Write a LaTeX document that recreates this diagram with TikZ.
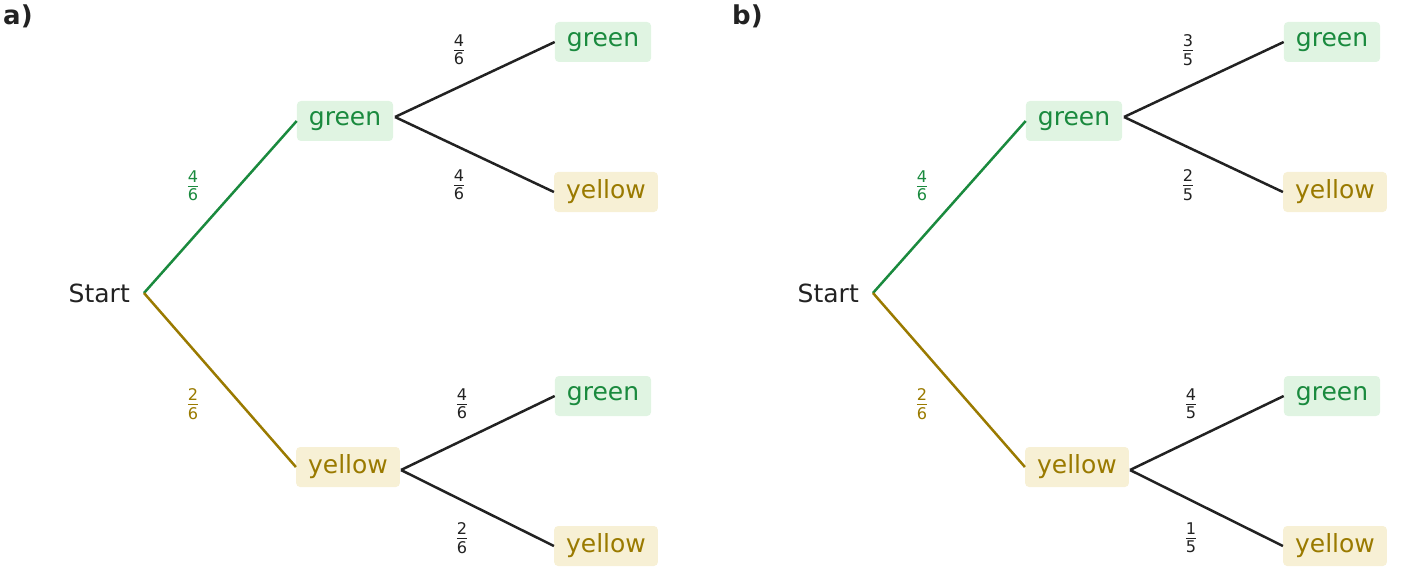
\documentclass[tikz,border=0pt]{standalone}
\usepackage{amsmath}
\usepackage{fontspec}
\setmainfont{DejaVu Sans}
\definecolor{gtx}{HTML}{1A8A3E}
\definecolor{gbg}{HTML}{E0F4E2}
\definecolor{ytx}{HTML}{9A7A00}
\definecolor{ybg}{HTML}{F7F0D5}
\definecolor{dk}{HTML}{222222}
\tikzset{
 gbox/.style={fill=gbg,text=gtx,rounded corners=4pt,minimum height=40pt,inner xsep=12pt,font=\fontsize{25}{30}\selectfont},
 ybox/.style={fill=ybg,text=ytx,rounded corners=4pt,minimum height=40pt,inner xsep=12pt,font=\fontsize{25}{30}\selectfont},
 st/.style={text=dk,font=\fontsize{25}{30}\selectfont,inner sep=0pt},
 fr/.style={font=\fontsize{23}{26}\selectfont,inner sep=0pt},
 ln/.style={line width=2.5pt},
 pl/.style={text=dk,font=\bfseries\fontsize{26}{30}\selectfont,anchor=west,inner sep=0pt}
}
\newcommand{\fq}[2]{$\frac{\text{#1}}{\text{#2}}$}
\begin{document}
\begin{tikzpicture}[x=1pt,y=-1pt]
\useasboundingbox (0,0) rectangle (1410,588);
\foreach \o/\l/\a/\b/\c/\d/\p in {0/a/4/6/4/6/a, 729/b/3/5/2/5/b}{
 \node[pl] (lab\p) at (\o+3,16) {\l)};
 \node[st,anchor=east] (s\p) at (\o+130,293) {Start};
 \coordinate (r\p) at (\o+144,293);
 \node[gbox] (g\p) at (\o+345,121) {green};
 \node[ybox] (y\p) at (\o+348,467) {yellow};
 \node[gbox] (gg\p) at (\o+603,42) {green};
 \node[ybox] (gy\p) at (\o+606,192) {yellow};
 \node[gbox] (yg\p) at (\o+603,396) {green};
 \node[ybox] (yy\p) at (\o+606,546) {yellow};
 \draw[ln,gtx] (r\p) -- (g\p.west);
 \draw[ln,ytx] (r\p) -- (y\p.west);
 \coordinate (ge\p) at (\o+395,117);
 \coordinate (ye\p) at (\o+401,470);
 \draw[ln,dk] (ge\p) -- (gg\p.west);
 \draw[ln,dk] (ge\p) -- (gy\p.west);
 \draw[ln,dk] (ye\p) -- (yg\p.west);
 \draw[ln,dk] (ye\p) -- (yy\p.west);
 \node[fr,text=gtx] (f1\p) at (\o+193,186) {\fq{4}{6}};
 \node[fr,text=ytx] (f2\p) at (\o+193,404) {\fq{2}{6}};
 \node[fr,text=dk] (f3\p) at (\o+459,50) {\fq{\a}{\b}};
 \node[fr,text=dk] (f4\p) at (\o+459,185) {\fq{\c}{\d}};
}
\node[fr,text=dk] (f5a) at (462,404) {\fq{4}{6}};
\node[fr,text=dk] (f6a) at (462,538) {\fq{2}{6}};
\node[fr,text=dk] (f5b) at (1191,404) {\fq{4}{5}};
\node[fr,text=dk] (f6b) at (1191,538) {\fq{1}{5}};
\end{tikzpicture}
\end{document}
